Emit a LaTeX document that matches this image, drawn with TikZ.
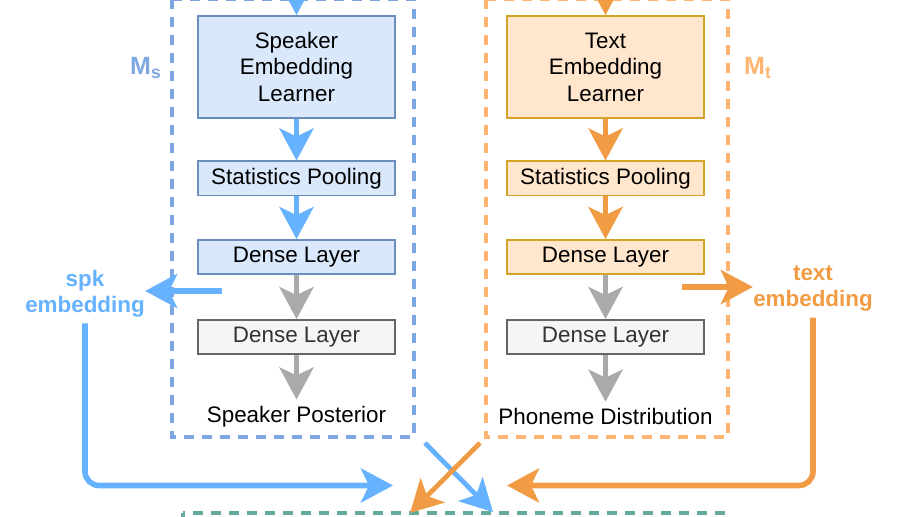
\documentclass[tikz,border=0pt]{standalone}
\usepackage{fontspec}
\setmainfont{Liberation Sans}
\usetikzlibrary{arrows.meta}

\definecolor{spkfill}{HTML}{DAE8FC}
\definecolor{spkline}{HTML}{6C8EBF}
\definecolor{spkframe}{HTML}{7EA6E0}
\definecolor{spkarrow}{HTML}{66B2FF}
\definecolor{txtfill}{HTML}{FFE6CC}
\definecolor{txtline}{HTML}{D6A32A}
\definecolor{txtframe}{HTML}{FFB570}
\definecolor{txtarrow}{HTML}{F19C45}
\definecolor{dimfill}{HTML}{F5F5F5}
\definecolor{dimline}{HTML}{666666}
\definecolor{dimtext}{HTML}{333333}
\definecolor{dimarrow}{HTML}{AAAAAA}
\definecolor{fuseframe}{HTML}{67AB9F}

\tikzset{
  block/.style={draw, line width=0.9pt, minimum width=98.5pt, align=center,
    font=\fontsize{11.2}{13.25}\selectfont},
  spkblock/.style={block, fill=spkfill, draw=spkline},
  txtblock/.style={block, fill=txtfill, draw=txtline},
  dimblock/.style={block, fill=dimfill, draw=dimline, text=dimtext, minimum height=17pt},
  flow/.style={line width=2.8pt, -{Stealth[length=16pt,width=17pt,inset=4pt]}},
  frame/.style={line width=1.6pt, dash pattern=on 5pt off 4pt},
  tag/.style={font=\fontsize{11.2}{13}\selectfont\bfseries, align=center,
    inner xsep=0pt, inner ysep=3pt},
}

\begin{document}
\begin{tikzpicture}[x=0.5pt, y=-0.5pt]
  \useasboundingbox (0,0) rectangle (918,517);
  \clip (0,0) rectangle (918,517);

  % frames
  \draw[frame, spkframe] (172,-1) rectangle (414,437);
  \draw[frame, txtframe] (486,-1) rectangle (728,437);
  \draw[frame, fuseframe] (183,513) rectangle (727,600);
  \node[text=spkframe, font=\fontsize{12.5}{14}\selectfont\bfseries] (ms) at (146,68) {M\textsubscript{s}};
  \node[text=txtframe, font=\fontsize{12.5}{14}\selectfont\bfseries] (mt) at (758,68) {M\textsubscript{t}};

  % speaker branch
  \node[spkblock, minimum height=51pt] (sel) at (296.5,67) {Speaker\\Embedding\\Learner};
  \node[spkblock, minimum height=16.5pt] (sp1) at (296.5,178.5) {Statistics Pooling};
  \node[spkblock, minimum height=17pt] (dl1) at (296.5,257) {Dense Layer};
  \node[dimblock] (dl1g) at (296.5,337) {Dense Layer};
  \node[font=\fontsize{11.2}{13}\selectfont] (post) at (296.5,417) {Speaker Posterior};

  % text branch
  \node[txtblock, minimum height=51pt] (tel) at (605.5,67) {Text\\Embedding\\Learner};
  \node[txtblock, minimum height=16.5pt] (sp2) at (605.5,178.5) {Statistics Pooling};
  \node[txtblock, minimum height=17pt] (dl2) at (605.5,257) {Dense Layer};
  \node[dimblock] (dl2g) at (605.5,337) {Dense Layer};
  \node[font=\fontsize{11.2}{13}\selectfont] (phon) at (605.5,417) {Phoneme Distribution};

  % embeddings
  \node[tag, text=spkarrow] (spk) at (85,293.5) {spk\\embedding};
  \node[tag, text=txtarrow] (txt) at (813,288.5) {text\\embedding};

  \coordinate (in1) at (296.5,-40);
  \coordinate (in2) at (605.5,-40);
  \coordinate (spkout) at (222,291);
  \coordinate (txtout) at (682,287);
  \coordinate (spkin) at (393,485.5);
  \coordinate (txtin) at (507,485.5);
  \coordinate (cs1) at (425,443);
  \coordinate (ce1) at (493,512);
  \coordinate (cs2) at (480,443);
  \coordinate (ce2) at (410,513);

  \begin{scope}[flow, spkarrow]
    \draw (in1) to (sel.north);
    \draw (sel) to (sp1);
    \draw (sp1) to (dl1);
    \draw (spkout) to (spkout -| spk.east);
    \draw[rounded corners=7pt] (spk.south) |- (spkin);
    \draw[line width=2.4pt] (cs1) to (ce1);
  \end{scope}
  \begin{scope}[flow, txtarrow]
    \draw (in2) to (tel.north);
    \draw (tel) to (sp2);
    \draw (sp2) to (dl2);
    \draw (txtout) to (txtout -| txt.west);
    \draw[rounded corners=7pt] (txt.south) |- (txtin);
    \draw[line width=2.4pt] (cs2) to (ce2);
  \end{scope}
  \begin{scope}[flow, dimarrow]
    \draw (dl1) to (dl1g);
    \draw (dl1g) to (post);
    \draw (dl2) to (dl2g);
    \draw (dl2g) to (phon);
  \end{scope}
\end{tikzpicture}
\end{document}
